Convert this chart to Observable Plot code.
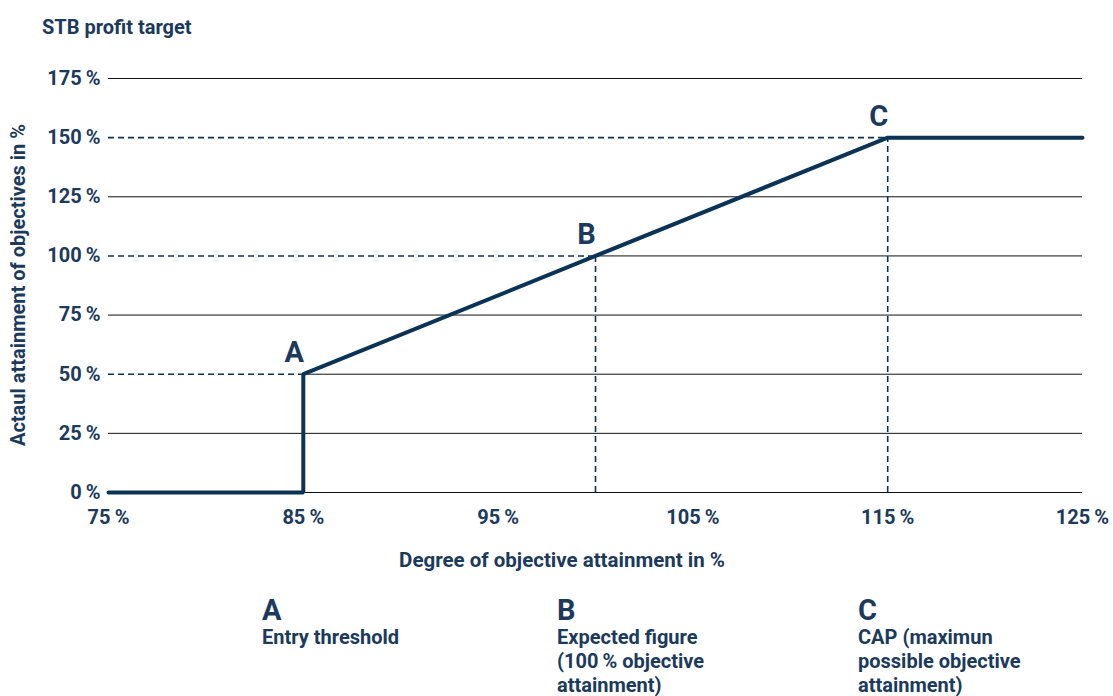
<!DOCTYPE html>
<html>
<head>
<meta charset="utf-8">
<script src="https://cdn.jsdelivr.net/npm/d3@7"></script>
<script src="https://cdn.jsdelivr.net/npm/@observablehq/plot@0.6"></script>
<style>
  html, body { margin: 0; padding: 0; background: #fff; }
  body { width: 1113px; height: 696px; position: relative; overflow: hidden;
         font-family: "Roboto", sans-serif; color: #1b3a5c; font-weight: bold; }
  #chart { position: absolute; left: 0; top: 0; }
  #chart g[aria-label$="tick label"] { font-size: 20px; }
  .abs { position: absolute; white-space: nowrap; }
  .title { left: 42px; top: 15px; font-size: 20px; }
  .ylab { left: 18px; top: 285px; font-size: 20px; transform: translate(-50%, -50%) rotate(-90deg); }
  .xlab { left: 562px; top: 548px; font-size: 20.5px; transform: translateX(-50%); }
  .leg { font-size: 20px; line-height: 24px; }
  .leg .k { font-size: 29px; line-height: 30px; display: block; margin-bottom: 0px; }
</style>
</head>
<body>
<div id="chart"></div>
<script>
// ---- data ----
const xTicks = [75, 85, 95, 105, 115, 125];
const yTicks = [0, 25, 50, 75, 100, 125, 150, 175];
const curveX = [75, 85, 85, 100, 115, 125];
const curveY = [0, 0, 50, 100, 150, 150];
const pointNames = ["A", "B", "C"];
const pointX = [85, 100, 115];
const pointY = [50, 100, 150];
const legendKeys = ["A", "B", "C"];
const legendTexts = [
  ["Entry threshold"],
  ["Expected figure", "(100\u2009% objective", "attainment)"],
  ["CAP (maximun", "possible objective", "attainment)"]
];
const titleText = "STB profit target";
const yLabel = "Actaul attainment of objectives in %";
const xLabel = "Degree of objective attainment in %";

const navy = "#0b3356";
const textCol = "#1b3a5c";

const curve = curveX.map((x, i) => ({x, y: curveY[i]}));
const points = pointNames.map((n, i) => ({n, x: pointX[i], y: pointY[i]}));
const fullGrid = yTicks.filter(v => !pointY.includes(v));
const partialGrid = points.filter(p => p.y < 150);

const plot = Plot.plot({
  width: 1113,
  height: 696,
  marginLeft: 108,
  marginRight: 31,
  marginTop: 78,
  marginBottom: 204,
  style: {fontFamily: '"Roboto", sans-serif', fontSize: "20px", fontWeight: "bold", color: textCol},
  x: {domain: [75, 125], ticks: xTicks, tickFormat: d => d + "\u2009%", label: null},
  y: {domain: [0, 175], ticks: yTicks, tickFormat: d => d + "\u2009%", label: null},
  marks: [
    Plot.ruleY(fullGrid, {stroke: "#111", strokeWidth: 1}),
    Plot.ruleY(partialGrid, {y: "y", x1: "x", x2: 125, stroke: "#111", strokeWidth: 1}),
    Plot.ruleY(points, {y: "y", x1: 75, x2: "x", stroke: navy, strokeWidth: 1.6, strokeDasharray: "6,4"}),
    Plot.ruleX(points.filter(p => p.y > 50), {x: "x", y1: 0, y2: "y", stroke: navy, strokeWidth: 1.6, strokeDasharray: "6,4"}),
    Plot.line(curve, {x: "x", y: "y", stroke: navy, strokeWidth: 4, strokeLinejoin: "miter"}),
    Plot.text(points, {x: "x", y: "y", text: "n", dx: -9, dy: -21, fontSize: 29, fontWeight: "bold", fill: textCol}),
    Plot.axisX({ticks: xTicks, tickFormat: d => d + "\u2009%", tickSize: 0, tickPadding: 17, fill: textCol,
                textAnchor: d => d === 75 ? "start" : "middle"}),
    Plot.axisY({ticks: yTicks, tickFormat: d => d + "\u2009%", tickSize: 0, tickPadding: 8, fill: textCol})
  ]
});
document.getElementById("chart").appendChild(plot);

function addDiv(cls, text, style) {
  const d = document.createElement("div");
  d.className = "abs " + cls;
  if (text != null) d.textContent = text;
  Object.assign(d.style, style || {});
  document.body.appendChild(d);
  return d;
}
addDiv("title", titleText);
addDiv("ylab", yLabel);
addDiv("xlab", xLabel);
const legLeft = [262, 557, 858];
legendKeys.forEach((k, i) => {
  const d = addDiv("leg", null, {left: legLeft[i] + "px", top: "595px"});
  const s = document.createElement("span");
  s.className = "k"; s.textContent = k; d.appendChild(s);
  legendTexts[i].forEach(t => { const l = document.createElement("div"); l.textContent = t; d.appendChild(l); });
});
</script>
</body>
</html>
